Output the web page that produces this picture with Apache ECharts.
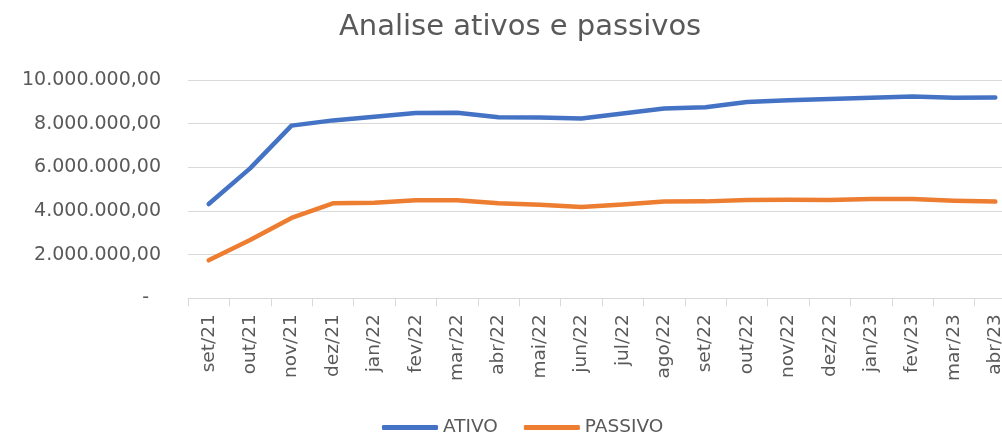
<!DOCTYPE html>
<html>
<head>
<meta charset="utf-8">
<script src="https://cdn.jsdelivr.net/npm/echarts@6/dist/echarts.min.js"></script>
<style>
  html, body { margin: 0; padding: 0; background: #fff; overflow: hidden; }
  /* o grafico original esta cortado a direita: a area de desenho passa da janela */
  #chart { width: 1020px; height: 435px; }
</style>
</head>
<body>
<div id="chart"></div>
<script>
// dados
var meses = ['set/21', 'out/21', 'nov/21', 'dez/21', 'jan/22', 'fev/22', 'mar/22', 'abr/22', 'mai/22', 'jun/22',
             'jul/22', 'ago/22', 'set/22', 'out/22', 'nov/22', 'dez/22', 'jan/23', 'fev/23', 'mar/23', 'abr/23'];
var ativo = [4320000, 5950000, 7910000, 8150000, 8320000, 8490000, 8500000, 8290000, 8280000, 8235000,
             8470000, 8690000, 8750000, 8990000, 9070000, 9130000, 9190000, 9240000, 9190000, 9195000];
var passivo = [1740000, 2670000, 3680000, 4350000, 4380000, 4490000, 4490000, 4350000, 4290000, 4180000,
               4300000, 4430000, 4440000, 4500000, 4520000, 4500000, 4550000, 4550000, 4470000, 4430000];
var yTicks = [0, 2000000, 4000000, 6000000, 8000000, 10000000];

var cinza = '#595959';
var fonte = '"DejaVu Sans", sans-serif';

// formato brasileiro 10.000.000,00
function formataBR(v) {
    var inteiro = Math.floor(v).toString().replace(/\B(?=(\d{3})+(?!\d))/g, '.');
    return inteiro + ',00';
}

var myChart = echarts.init(document.getElementById('chart'));

var option = {
    backgroundColor: '#fff',
    animation: false,
    title: {
        text: 'Analise ativos e passivos',
        left: 334,
        top: 8,
        textStyle: { color: cinza, fontSize: 29, fontWeight: 'normal', fontFamily: fonte }
    },
    legend: {
        left: 377,
        top: 413,
        icon: 'roundRect',
        itemWidth: 56,
        itemHeight: 5,
        itemGap: 26,
        textStyle: { color: cinza, fontSize: 18.5, fontFamily: fonte },
        data: ['ATIVO', 'PASSIVO']
    },
    grid: {
        left: 188,
        top: 80,
        width: 828,
        height: 218.3,
        outerBoundsMode: 'none'
    },
    xAxis: {
        type: 'category',
        data: meses,
        boundaryGap: true,
        axisLine: { lineStyle: { color: '#D9D9D9', width: 1 } },
        axisTick: { show: true, length: 8, lineStyle: { color: '#D9D9D9' } },
        axisLabel: {
            rotate: 90,
            interval: 0,
            margin: 16,
            color: cinza,
            fontSize: 18.5,
            fontFamily: fonte
        }
    },
    yAxis: {
        type: 'value',
        min: yTicks[0],
        max: yTicks[yTicks.length - 1],
        interval: yTicks[1] - yTicks[0],
        axisLine: { show: false },
        axisTick: { show: false },
        splitLine: { lineStyle: { color: '#D9D9D9', width: 1 } },
        axisLabel: {
            margin: 27,
            color: cinza,
            fontSize: 19,
            fontFamily: fonte,
            formatter: function (v) {
                if (v === 0) return '{z|-}';
                return formataBR(v);
            },
            rich: {
                z: { color: cinza, fontSize: 19, fontFamily: fonte, padding: [0, 12, 0, 0] }
            }
        }
    },
    series: [
        {
            name: 'ATIVO',
            type: 'line',
            data: ativo,
            symbol: 'none',
            color: '#4472C4',
            lineStyle: { color: '#4472C4', width: 4.5, cap: 'round', join: 'round' }
        },
        {
            name: 'PASSIVO',
            type: 'line',
            data: passivo,
            symbol: 'none',
            color: '#ED7D31',
            lineStyle: { color: '#ED7D31', width: 4.5, cap: 'round', join: 'round' }
        }
    ]
};

myChart.setOption(option);
</script>
</body>
</html>
